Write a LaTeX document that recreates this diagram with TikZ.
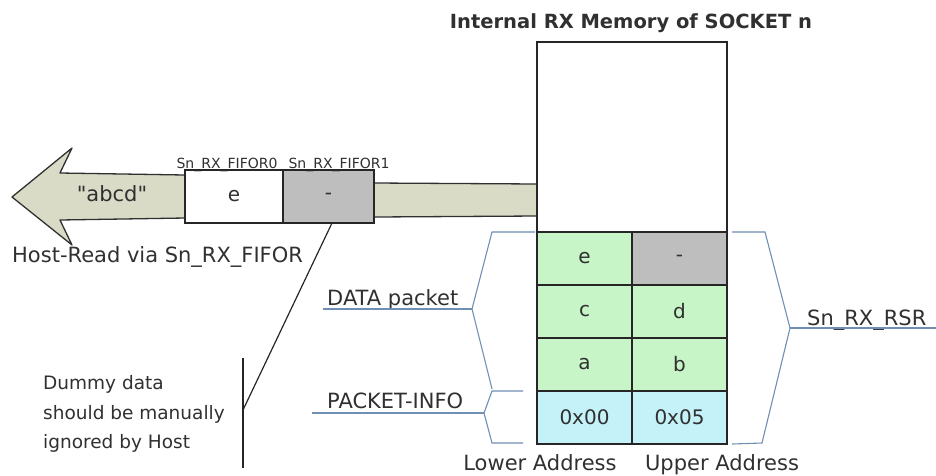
\documentclass[tikz,border=0pt]{standalone}
\usepackage{fontspec}
\setmainfont{DejaVu Sans}
\newfontfamily\plainquote{DejaVu Sans}
\usetikzlibrary{positioning}

\definecolor{bandfill}{HTML}{D9DBC6}
\definecolor{datagreen}{HTML}{C8F5C8}
\definecolor{infocyan}{HTML}{C4F2F8}
\definecolor{dummygrey}{HTML}{BEBEBE}
\definecolor{bracketblue}{HTML}{6F8FB3}
\definecolor{inkgrey}{HTML}{303030}

\newcommand{\ttlfont}{\fontsize{19.5}{23}\selectfont\bfseries}
\newcommand{\lblfont}{\fontsize{21}{25}\selectfont}
\newcommand{\cellfont}{\fontsize{20}{24}\selectfont}
\newcommand{\fifofont}{\fontsize{14}{16}\selectfont}
\newcommand{\notefont}{\fontsize{18.5}{29.5}\selectfont}

\begin{document}
\begin{tikzpicture}[x=1pt, y=-1pt, every node/.style={text=inkgrey, inner sep=0pt},
        cell/.style={draw=black!85, line width=1.3pt, minimum width=95pt, minimum height=53pt, outer sep=0pt, font=\cellfont},
        data/.style={cell, fill=datagreen},
        info/.style={cell, fill=infocyan},
        dummy/.style={cell, fill=dummygrey},
        fifo/.style={draw=black!85, line width=1.3pt, minimum height=53pt, outer sep=0pt, font=\cellfont},
        brace/.style={draw=bracketblue, line width=1.1pt},
        lead/.style={draw=black!85, line width=1.2pt}]
        \useasboundingbox (0,0) rectangle (936,475);

        % Host-read band
        \draw[fill=bandfill, draw=inkgrey, line width=1.3pt, line join=round]
            (537,184) -- (375,183) -- (185,175) -- (60,173) -- (72,148) -- (12,197)
            -- (72,245) -- (60,220) -- (185,218) -- (375,217) -- (537,216);
        \node[font=\lblfont\plainquote] (str) at (112,194) {"abcd"};

        % FIFO registers
        \node[fifo, fill=white, minimum width=98pt] (F0) at (234,196.5) {e};
        \node[fifo, fill=dummygrey, minimum width=91pt, right=0pt of F0] (F1) {-};
        \node[font=\fifofont, anchor=base] (F0lbl) at (227,168) {Sn\_RX\_FIFOR0};
        \node[font=\fifofont, anchor=base] (F1lbl) at (339,168) {Sn\_RX\_FIFOR1};
        \node[font=\lblfont, anchor=base west] (host) at (12,262) {Host-Read via Sn\_RX\_FIFOR};

        % Memory of socket
        \node[draw=black!85, line width=1.3pt, fill=white, minimum width=190pt, minimum height=190pt, outer sep=0pt] (mem) at (632,137) {};
        \node[font=\ttlfont, anchor=base] (title) at (631,28) {Internal RX Memory of SOCKET n};

        % Cells inside memory
        \node[data, below right=0pt and 0pt of mem.south west] (L1) {e};
        \node[dummy, right=0pt of L1] (U1) {-};
        \node[data, below=0pt of L1] (L2) {c};
        \node[data, right=0pt of L2] (U2) {d};
        \node[data, below=0pt of L2] (L3) {a};
        \node[data, right=0pt of L3] (U3) {b};
        \node[info, below=0pt of L3] (L4) {0x00};
        \node[info, right=0pt of L4] (U4) {0x05};
        \node[font=\lblfont, anchor=base] (lower) at (540,470) {Lower Address};
        \node[font=\lblfont, anchor=base] (upper) at (722,470) {Upper Address};

        % Brackets
        \coordinate (dtip) at (472,309);
        \coordinate (itip) at (484,413);
        \coordinate (rtip) at (790,328);
        \draw[brace] ([xshift=-2pt]L1.north west) -- (492,232) -- (dtip) -- (492,389);
        \draw[brace] (523,391) -- (492,391) -- (itip) -- (492,443) -- (523,443);
        \draw[brace] ([xshift=5pt]U1.north east) -- (765,232) -- (rtip) -- (762,443) -- ([xshift=5pt]U4.south east);

        % Bracket labels
        \node[font=\lblfont, anchor=base west] (dlbl) at (327,305) {DATA packet};
        \node[font=\lblfont, anchor=base west] (ilbl) at (327,408) {PACKET-INFO};
        \node[font=\lblfont, anchor=base west] (rlbl) at (807,325) {Sn\_RX\_RSR};
        \draw[brace] ([xshift=-4pt, yshift=-4pt]dlbl.base west) -- (dtip);
        \draw[brace] ([xshift=-15pt, yshift=-5pt]ilbl.base west) -- (itip);
        \draw[brace] (rtip) -- (936,328);

        % Dummy data note
        \coordinate (bar) at (243,410);
        \draw[lead] (243,358) -- (243,468);
        \draw[lead] ([xshift=3.5pt]F1.south) -- (bar);
        \node[font=\notefont, align=left, anchor=west] (note) at (43,414) {Dummy data\\should be manually\\ignored by Host};
    \end{tikzpicture}
\end{document}
